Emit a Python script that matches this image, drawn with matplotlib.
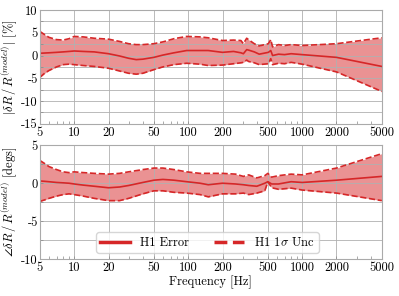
import numpy as np
import matplotlib
matplotlib.use("Agg")
import matplotlib.pyplot as plt
from matplotlib.ticker import FixedLocator, FixedFormatter, MultipleLocator, FuncFormatter

plt.rcParams['font.family'] = 'serif'
plt.rcParams['font.serif'] = ['cmr10', 'DejaVu Serif']
plt.rcParams['mathtext.fontset'] = 'cm'
plt.rcParams['font.size'] = 9

# magnitude panel (percent)
mag_f = [5, 5.5, 6, 7, 8, 9, 10, 12, 15, 20, 25, 30, 35, 40, 50, 60, 75, 97, 127, 150,
         200, 250, 290, 305, 326, 338, 380, 420, 505, 530, 550, 620, 700, 800, 1000, 2000, 5000]
mag_err = [0.5, 0.55, 0.6, 0.7, 0.8, 0.9, 1.0, 0.9, 0.8, 0.4, -0.1, -0.6, -0.9, -0.8, -0.4,
           0.1, 0.6, 1.1, 1.1, 1.1, 0.7, 0.9, 0.6, 0.4, 1.3, 1.2, 0.8, 0.3, 0.7, 1.1, 0.0,
           0.3, 0.2, 0.4, 0.2, -0.4, -2.4]
mag_up = [5.3, 4.6, 4.0, 3.5, 3.4, 3.7, 4.2, 4.1, 3.8, 3.6, 3.1, 2.6, 2.4, 2.4, 2.6, 3.0,
          3.7, 4.2, 4.1, 3.9, 3.3, 3.4, 3.3, 2.6, 3.8, 3.5, 2.6, 2.1, 2.6, 3.5, 1.9, 2.4,
          2.2, 2.4, 2.2, 2.6, 3.9]
mag_lo = [-4.8, -3.9, -3.3, -2.5, -2.0, -1.9, -2.0, -2.2, -2.4, -2.8, -3.4, -3.9, -4.1, -3.9,
          -3.1, -2.5, -2.0, -1.7, -1.9, -2.2, -2.1, -1.8, -1.6, -1.5, -1.0, -1.3, -1.6,
          -2.0, -1.8, -0.7, -2.0, -1.7, -1.8, -1.5, -1.9, -3.6, -7.9]

# phase panel (degrees)
ph_f = [5, 5.5, 6, 7, 8, 9, 10, 12, 15, 20, 25, 30, 40, 50, 60, 75, 97, 127, 150, 200,
        260, 305, 340, 400, 470, 500, 540, 620, 800, 1000, 2000, 5000]
ph_err = [0.3, 0.25, 0.2, 0.1, 0.05, 0.0, -0.1, -0.25, -0.4, -0.6, -0.5, -0.3, 0.1, 0.4,
          0.5, 0.4, 0.2, 0.0, -0.2, 0.0, -0.1, -0.2, -0.3, -0.4, 0.0, 0.2, -0.1, -0.1, 0.2,
          0.1, 0.4, 0.9]
ph_up = [3.0, 2.6, 2.2, 1.8, 1.5, 1.4, 1.5, 1.4, 1.3, 1.2, 1.3, 1.5, 1.8, 2.0, 2.0, 1.8,
         1.5, 1.3, 1.3, 1.3, 1.2, 0.9, 1.1, 0.7, 1.0, 1.3, 0.8, 1.0, 1.2, 1.1, 2.0, 3.9]
ph_lo = [-2.4, -2.2, -2.0, -1.7, -1.5, -1.4, -1.5, -1.7, -2.0, -2.3, -2.3, -2.0, -1.4, -1.0,
         -1.0, -1.2, -1.3, -1.5, -1.8, -1.4, -1.4, -1.3, -1.5, -1.3, -1.0, 0.2, -0.6, -0.8,
         -0.65, -0.9, -1.3, -2.3]

xticks = [5, 10, 20, 50, 100, 200, 500, 1000, 2000, 5000]
red = '#d62728'

fig, axes = plt.subplots(2, 1, figsize=(3.99, 2.96), dpi=100)
fig.subplots_adjust(left=0.10, right=0.957, top=0.966, bottom=0.125, hspace=0.19)

panels = [
    (mag_f, mag_err, mag_up, mag_lo, (-15, 10), r'$|\delta R\,/\,R^{(model)}|$ [%]'),
    (ph_f, ph_err, ph_up, ph_lo, (-10, 5), r'$\angle\delta R\,/\,R^{(model)}$ [degs]'),
]
for ax, (f, err, up, lo, ylim, ylab) in zip(axes, panels):
    ax.fill_between(f, lo, up, color=red, alpha=0.5, lw=0)
    ax.plot(f, err, color=red, lw=1.2, label='H1 Error')
    ax.plot(f, up, color=red, lw=1.2, ls='--', label=r'H1 $1\sigma$ Unc')
    ax.plot(f, lo, color=red, lw=1.2, ls='--')
    ax.set_xscale('log')
    ax.set_xlim(5, 5000)
    ax.set_ylim(*ylim)
    ax.xaxis.set_major_locator(FixedLocator(xticks))
    ax.xaxis.set_major_formatter(FixedFormatter([str(t) for t in xticks]))
    ax.yaxis.set_major_locator(MultipleLocator(5))
    ax.yaxis.set_minor_locator(MultipleLocator(2.5))
    ax.yaxis.set_major_formatter(FuncFormatter(lambda v, p: '%d' % v))
    ax.grid(True, which='major', color='#b0b0b0', lw=0.6)
    ax.grid(True, which='minor', axis='y', color='#b0b0b0', lw=0.6)
    ax.tick_params(which='both', direction='in', length=2, width=0.5, color='#888888', pad=2)
    ax.tick_params(axis='y', pad=1.5)
    for s in ax.spines.values():
        s.set_color('#aaaaaa')
        s.set_linewidth(0.8)
    ax.set_ylabel(ylab, fontsize=9)
    ax.yaxis.set_label_coords(-0.058, 0.5)

axes[1].set_xlabel('Frequency [Hz]', labelpad=1)
h, l = axes[1].get_legend_handles_labels()
axes[1].legend(h, l, loc='lower center', ncol=2, fontsize=9, handlelength=2.4,
               framealpha=0.8, edgecolor='#cccccc', borderpad=0.3, columnspacing=2.0,
               bbox_to_anchor=(0.49, 0.0))
for line in axes[1].get_legend().get_lines():
    line.set_linewidth(2.5)

fig.savefig('out.png', dpi=100)
